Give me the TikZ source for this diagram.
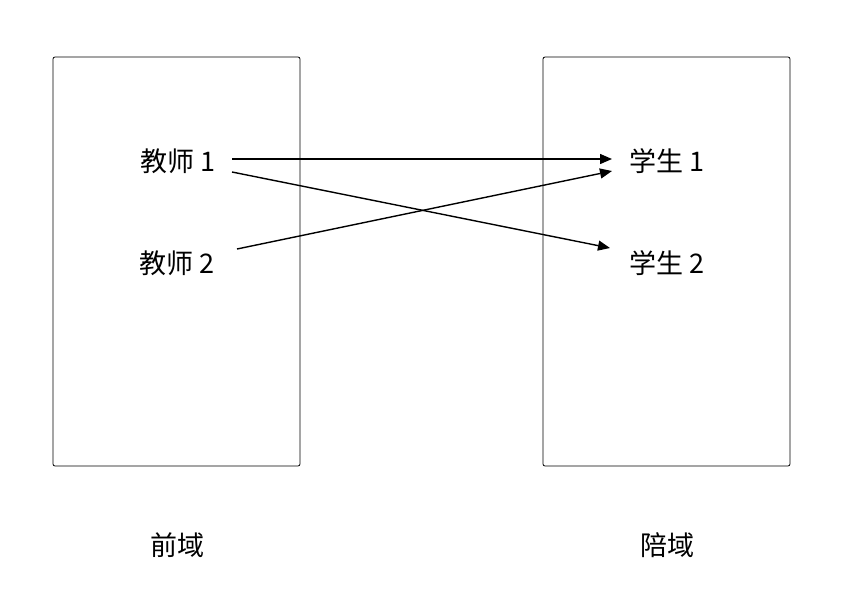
\documentclass[tikz,border=0pt]{standalone}
\usepackage{fontspec}
\setmainfont{Noto Sans CJK SC}
\usetikzlibrary{arrows.meta}
\begin{document}
\begin{tikzpicture}[x=1pt,y=-1pt,
  setbox/.style={draw=black,line width=0.8pt,rounded corners=2pt},
  lbl/.style={font=\fontsize{27}{30}\selectfont,inner sep=0pt,anchor=center},
  conn/.style={line width=1.4pt,-{Triangle[length=12pt,width=10pt]}}]
\useasboundingbox (0,0) rectangle (854,614);
\draw[setbox] (53,57) rectangle (300,466);
\draw[setbox] (543,57) rectangle (790,466);
\node[lbl] (t1) at (178,161) {教师 1};
\node[lbl] (t2) at (177,263) {教师 2};
\node[lbl] (s1) at (667,161) {学生 1};
\node[lbl] (s2) at (667,263) {学生 2};
\node[lbl] (pre) at (177,545) {前域};
\node[lbl] (co) at (667,545) {陪域};
\coordinate (a1) at (232,159);
\coordinate (b1) at (612,159);
\coordinate (a2) at (232,172);
\coordinate (b2) at (610,248);
\coordinate (a3) at (237,249);
\coordinate (b3) at (612,171);
\draw[conn] (a1) -- (b1);
\draw[conn] (a2) -- (b2);
\draw[conn] (a3) -- (b3);
\end{tikzpicture}
\end{document}
